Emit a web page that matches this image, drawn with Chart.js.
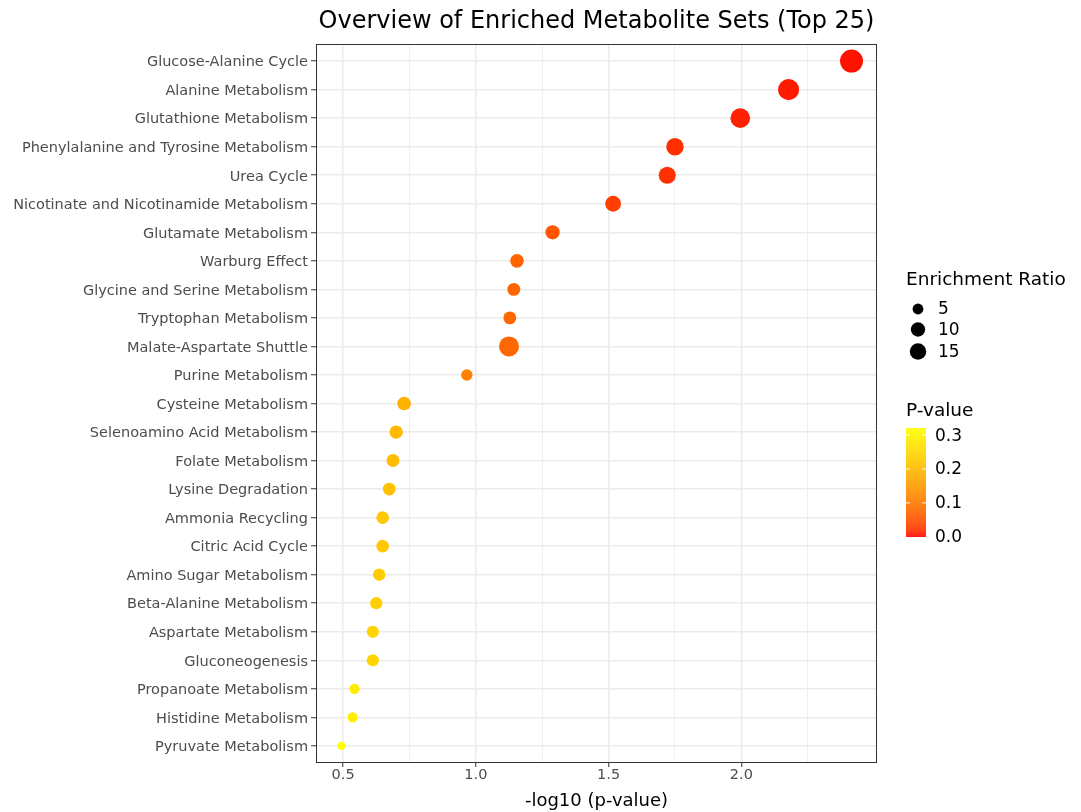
<!DOCTYPE html>
<html>
<head>
<meta charset="utf-8">
<script src="https://cdn.jsdelivr.net/npm/chart.js@4.4.1/dist/chart.umd.min.js"></script>
<style>
  html, body { margin: 0; padding: 0; background: #ffffff; }
  #wrap { width: 1081px; height: 812px; position: relative; }
</style>
</head>
<body>
<div id="wrap"><canvas id="c" width="1081" height="812"></canvas></div>
<script>
// ---------------- DATA ----------------
const chartTitle = "Overview of Enriched Metabolite Sets (Top 25)";
const categories = [
  "Glucose-Alanine Cycle",
  "Alanine Metabolism",
  "Glutathione Metabolism",
  "Phenylalanine and Tyrosine Metabolism",
  "Urea Cycle",
  "Nicotinate and Nicotinamide Metabolism",
  "Glutamate Metabolism",
  "Warburg Effect",
  "Glycine and Serine Metabolism",
  "Tryptophan Metabolism",
  "Malate-Aspartate Shuttle",
  "Purine Metabolism",
  "Cysteine Metabolism",
  "Selenoamino Acid Metabolism",
  "Folate Metabolism",
  "Lysine Degradation",
  "Ammonia Recycling",
  "Citric Acid Cycle",
  "Amino Sugar Metabolism",
  "Beta-Alanine Metabolism",
  "Aspartate Metabolism",
  "Gluconeogenesis",
  "Propanoate Metabolism",
  "Histidine Metabolism",
  "Pyruvate Metabolism"
];
const negLog10P = [2.415, 2.178, 1.996, 1.750, 1.721, 1.517, 1.289, 1.155, 1.143, 1.128,
                   1.125, 0.966, 0.730, 0.700, 0.688, 0.674, 0.649, 0.649, 0.636, 0.625,
                   0.612, 0.612, 0.543, 0.536, 0.494];
const pValue = [0.00385, 0.00664, 0.01009, 0.01778, 0.01901, 0.03041, 0.05140, 0.06998, 0.07194, 0.07447,
                0.07499, 0.10814, 0.18621, 0.19953, 0.20512, 0.21184, 0.22439, 0.22439, 0.23121, 0.23714,
                0.24434, 0.24434, 0.28642, 0.29107, 0.32063];
const enrichmentRatio = [40.0, 31.2, 25.3, 17.8, 16.7, 13.3, 9.8, 8.6, 7.5, 7.4,
                         26.7, 5.5, 8.7, 8.0, 7.4, 7.2, 7.0, 7.0, 6.7, 6.5,
                         6.5, 6.5, 4.6, 4.6, 4.0];
const xMajorTicks = [0.5, 1.0, 1.5, 2.0];
const xMinorTicks = [0.75, 1.25, 1.75, 2.25];
const sizeLegendValues = [5, 10, 15];
const pLegendTicks = [0.0, 0.1, 0.2, 0.3];

// ---------------- HELPERS ----------------
const FONT = "'DejaVu Sans', 'Liberation Sans', sans-serif";
const ratioMin = Math.min(...enrichmentRatio);
const ratioMax = Math.max(...enrichmentRatio);
const R_MIN = 4.2, R_MAX = 11.5;
function radiusFor(v) {
  const t = Math.max(0, (v - ratioMin) / (ratioMax - ratioMin));
  return R_MIN + (R_MAX - R_MIN) * Math.sqrt(t);
}

function srgbToLin(c) { c /= 255; return c <= 0.04045 ? c / 12.92 : Math.pow((c + 0.055) / 1.055, 2.4); }
function linToSrgb(c) { c = c <= 0.0031308 ? 12.92 * c : 1.055 * Math.pow(c, 1 / 2.4) - 0.055; return Math.round(Math.min(1, Math.max(0, c)) * 255); }
const Xn = 0.95047, Yn = 1.0, Zn = 1.08883;
function f(t) { return t > 0.008856 ? Math.cbrt(t) : 7.787 * t + 16 / 116; }
function finv(t) { return t > 0.206893 ? t * t * t : (t - 16 / 116) / 7.787; }
function rgbToLab(r, g, b) {
  const R = srgbToLin(r), G = srgbToLin(g), B = srgbToLin(b);
  const X = R * 0.4124 + G * 0.3576 + B * 0.1805;
  const Y = R * 0.2126 + G * 0.7152 + B * 0.0722;
  const Z = R * 0.0193 + G * 0.1192 + B * 0.9505;
  const fx = f(X / Xn), fy = f(Y / Yn), fz = f(Z / Zn);
  return [116 * fy - 16, 500 * (fx - fy), 200 * (fy - fz)];
}
function labToRgb(L, a, b) {
  const fy = (L + 16) / 116, fx = fy + a / 500, fz = fy - b / 200;
  const X = Xn * finv(fx), Y = Yn * finv(fy), Z = Zn * finv(fz);
  const R = X * 3.2406 + Y * -1.5372 + Z * -0.4986;
  const G = X * -0.9689 + Y * 1.8758 + Z * 0.0415;
  const B = X * 0.0557 + Y * -0.2040 + Z * 1.0570;
  return [linToSrgb(R), linToSrgb(G), linToSrgb(B)];
}
const labLow = rgbToLab(255, 0, 0);
const labHigh = rgbToLab(255, 255, 0);
const pMaxLimit = Math.max(...pValue);
function colorForP(p) {
  const t = Math.min(1, Math.max(0, p / pMaxLimit));
  const L = labLow[0] + (labHigh[0] - labLow[0]) * t;
  const A = labLow[1] + (labHigh[1] - labLow[1]) * t;
  const B = labLow[2] + (labHigh[2] - labLow[2]) * t;
  const [r, g, b] = labToRgb(L, A, B);
  return `rgb(${r},${g},${b})`;
}
const isMinor = v => xMinorTicks.some(m => Math.abs(m - v) < 1e-9);

// ---------------- PLUGINS ----------------
const panelBorder = {
  id: 'panelBorder',
  afterDatasetsDraw(chart) {
    const { ctx, chartArea: a } = chart;
    ctx.save();
    ctx.strokeStyle = '#333333';
    ctx.lineWidth = 1;
    ctx.strokeRect(a.left + 0.5, a.top + 0.5, a.right - a.left - 1, a.bottom - a.top - 1);
    ctx.restore();
  }
};

const panelTitle = {
  id: 'panelTitle',
  afterDraw(chart) {
    const { ctx, chartArea: a } = chart;
    ctx.save();
    ctx.fillStyle = '#000000';
    ctx.font = `24px ${FONT}`;
    ctx.textAlign = 'center';
    ctx.textBaseline = 'middle';
    ctx.fillText(chartTitle, (a.left + a.right) / 2, 21.5);
    ctx.restore();
  }
};

const customLegend = {
  id: 'customLegend',
  afterDraw(chart) {
    const ctx = chart.ctx;
    ctx.save();
    ctx.textBaseline = 'middle';
    ctx.textAlign = 'left';
    // Size legend
    ctx.fillStyle = '#000000';
    ctx.font = `18.5px ${FONT}`;
    ctx.fillText('Enrichment Ratio', 906, 280);
    const sizeYs = [309, 329.5, 351.5];
    sizeLegendValues.forEach((v, i) => {
      ctx.beginPath();
      ctx.arc(918, sizeYs[i], radiusFor(v), 0, Math.PI * 2);
      ctx.fill();
      ctx.font = `17px ${FONT}`;
      ctx.fillText(String(v), 938, sizeYs[i] + 1);
    });
    // Colour bar legend
    ctx.font = `18.5px ${FONT}`;
    ctx.fillText('P-value', 906, 411);
    const barX = 906, barW = 20, barBottom = 536.7, pxPerUnit = 338.5;
    const barTop = barBottom - pMaxLimit * pxPerUnit;
    for (let y = barTop; y < barBottom; y += 1) {
      const p = (barBottom - y - 0.5) / pxPerUnit;
      ctx.fillStyle = colorForP(p);
      ctx.fillRect(barX, y, barW, Math.min(1, barBottom - y) + 0.3);
    }
    ctx.strokeStyle = 'rgba(255,255,255,0.9)';
    ctx.lineWidth = 1;
    ctx.font = `17px ${FONT}`;
    pLegendTicks.forEach(v => {
      const y = barBottom - v * pxPerUnit;
      if (v > 0 && v <= pMaxLimit) {
        ctx.beginPath();
        ctx.moveTo(barX, y); ctx.lineTo(barX + 4, y);
        ctx.moveTo(barX + barW - 4, y); ctx.lineTo(barX + barW, y);
        ctx.stroke();
      }
      ctx.fillStyle = '#000000';
      ctx.fillText(v.toFixed(1), 935, y + 1);
    });
    ctx.restore();
  }
};

// ---------------- CHART ----------------
const points = categories.map((c, i) => ({ x: negLog10P[i], y: i }));

new Chart(document.getElementById('c'), {
  type: 'scatter',
  data: {
    datasets: [{
      data: points,
      pointRadius: ctx => radiusFor(enrichmentRatio[ctx.dataIndex]),
      pointHoverRadius: ctx => radiusFor(enrichmentRatio[ctx.dataIndex]),
      pointBackgroundColor: ctx => colorForP(pValue[ctx.dataIndex]),
      pointBorderWidth: 0,
      pointBorderColor: 'rgba(0,0,0,0)'
    }]
  },
  options: {
    responsive: false,
    animation: false,
    events: [],
    layout: { padding: { left: 0, right: 204, top: 44, bottom: 0 } },
    plugins: {
      legend: { display: false },
      tooltip: { enabled: false },
      title: { display: false }
    },
    scales: {
      x: {
        type: 'linear',
        min: 0.398,
        max: 2.511,
        afterBuildTicks: s => {
          s.ticks = [...xMajorTicks, ...xMinorTicks].sort((a, b) => a - b).map(v => ({ value: v }));
        },
        afterFit: s => { s.height = 49; },
        border: { display: false },
        grid: {
          color: '#EBEBEB',
          lineWidth: ctx => (ctx.tick && isMinor(ctx.tick.value)) ? 0.8 : 1.5,
          tickColor: ctx => (ctx.tick && isMinor(ctx.tick.value)) ? 'rgba(0,0,0,0)' : '#333333',
          tickLength: 4,
          tickWidth: 1,
          drawTicks: true
        },
        ticks: {
          autoSkip: false,
          maxRotation: 0,
          padding: 0,
          color: '#4D4D4D',
          font: { family: FONT, size: 14.5 },
          callback: v => isMinor(v) ? '' : Number(v).toFixed(1)
        },
        title: {
          display: true,
          text: '-log10 (p-value)',
          color: '#000000',
          font: { family: FONT, size: 18 },
          padding: { top: 0, bottom: 0 }
        }
      },
      y: {
        type: 'linear',
        min: -0.6,
        max: categories.length - 1 + 0.6,
        reverse: true,
        afterBuildTicks: s => { s.ticks = categories.map((c, i) => ({ value: i })); },
        afterFit: s => { s.width = 316; },
        border: { display: false },
        grid: {
          color: '#EBEBEB',
          lineWidth: 1.5,
          tickColor: '#333333',
          tickLength: 5,
          tickWidth: 1
        },
        ticks: {
          autoSkip: false,
          padding: 3,
          labelOffset: 1.5,
          color: '#4D4D4D',
          font: { family: FONT, size: 14.5 },
          callback: v => categories[v]
        }
      }
    }
  },
  plugins: [panelBorder, panelTitle, customLegend]
});
</script>
</body>
</html>
